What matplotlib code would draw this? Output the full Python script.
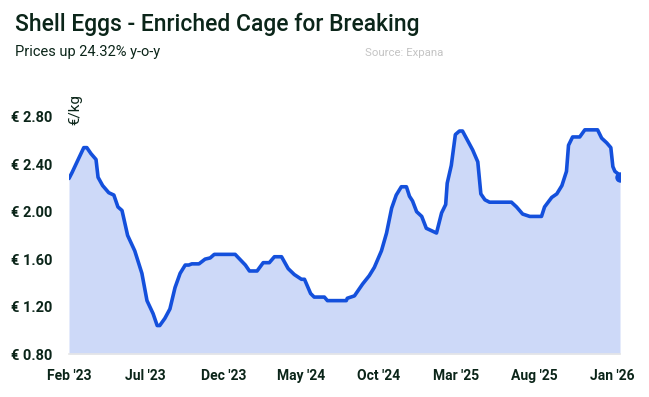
import matplotlib
matplotlib.use("Agg")
import matplotlib.pyplot as plt
import pandas as pd

dates = ["2023-02-01","2023-02-07","2023-02-19","2023-03-02","2023-03-08","2023-03-16","2023-03-26",
         "2023-03-30","2023-04-08","2023-04-20","2023-04-30","2023-05-08","2023-05-16","2023-05-27",
         "2023-06-10","2023-06-24","2023-07-04","2023-07-16","2023-07-24","2023-07-29","2023-08-08",
         "2023-08-18","2023-08-28","2023-09-07","2023-09-17","2023-09-24","2023-09-30","2023-10-14",
         "2023-10-26","2023-11-05","2023-11-13","2023-12-24","2024-01-13","2024-01-21","2024-02-05",
         "2024-02-17","2024-02-29","2024-03-10","2024-03-24","2024-04-06","2024-04-18","2024-05-02",
         "2024-05-08","2024-05-20","2024-05-27","2024-06-16","2024-06-22","2024-07-29","2024-07-31",
         "2024-08-14","2024-08-30","2024-09-12","2024-09-22","2024-10-06","2024-10-16","2024-10-26",
         "2024-11-04","2024-11-14","2024-11-24","2024-11-30","2024-12-06","2024-12-14","2024-12-24",
         "2025-01-02","2025-01-12","2025-01-22","2025-02-01","2025-02-09","2025-02-12","2025-02-20",
         "2025-02-28","2025-03-08","2025-03-14","2025-03-24","2025-04-03","2025-04-13","2025-04-19",
         "2025-04-27","2025-05-06","2025-06-18","2025-06-28","2025-07-10","2025-07-24","2025-08-16",
         "2025-08-22","2025-09-05","2025-09-15","2025-09-25","2025-10-04","2025-10-08","2025-10-16",
         "2025-10-30","2025-11-09","2025-12-04","2025-12-12","2025-12-22","2025-12-30","2026-01-03",
         "2026-01-07","2026-01-13","2026-01-17"]
prices = [2.28,2.33,2.44,2.54,2.54,2.49,2.44,
          2.29,2.22,2.16,2.14,2.04,2.01,1.80,
          1.67,1.48,1.25,1.14,1.04,1.04,1.10,
          1.18,1.36,1.48,1.55,1.55,1.56,1.56,
          1.60,1.61,1.64,1.64,1.55,1.50,1.50,
          1.57,1.57,1.62,1.62,1.52,1.47,1.43,
          1.43,1.31,1.28,1.28,1.25,1.25,1.27,
          1.29,1.39,1.46,1.53,1.67,1.82,2.03,
          2.14,2.21,2.21,2.13,2.09,2.00,1.96,
          1.86,1.84,1.82,1.99,2.06,2.24,2.39,
          2.65,2.68,2.68,2.60,2.52,2.42,2.15,
          2.10,2.08,2.08,2.04,1.98,1.96,1.96,
          2.04,2.12,2.15,2.22,2.34,2.56,2.63,
          2.63,2.69,2.69,2.62,2.58,2.54,2.38,
          2.34,2.32,2.29]
yticks = [0.80, 1.20, 1.60, 2.00, 2.40, 2.80]
xtick_dates = ["2023-02-01","2023-07-01","2023-12-01","2024-05-01","2024-10-01",
               "2025-03-01","2025-08-01","2026-01-01"]
xtick_labels = ["Feb '23","Jul '23","Dec '23","May '24","Oct '24","Mar '25","Aug '25","Jan '26"]

x = pd.to_datetime(dates)
xt = pd.to_datetime(xtick_dates)

DARK = "#0b2519"
LINE = "#1450dc"
FILL = "#cdd9f8"
FONT = ["Roboto", "DejaVu Sans"]

fig = plt.figure(figsize=(6.49, 3.97), dpi=100)
W, H = 649, 397
left, right, top, bottom = 69, 620, 99, 354
ax = fig.add_axes([left / W, 1 - bottom / H, (right - left) / W, (bottom - top) / H])

ax.fill_between(x, prices, 0.80, color=FILL, lw=0)
ax.plot(x, prices, color=LINE, lw=2.6, solid_joinstyle="round", solid_capstyle="round")
ax.plot(x[-1:], prices[-1:], "o", color=LINE, ms=6.5)

ax.set_xlim(x[0], x[-1])
ax.set_ylim(0.80, 2.95)
ax.set_yticks(yticks)
ax.set_yticklabels([f"€ {v:.2f}" for v in yticks], family=FONT, weight="bold",
                   fontsize=10.5, color=DARK)
ax.set_xticks(xt)
ax.set_xticklabels(xtick_labels, family=FONT, weight="bold", fontsize=10, color=DARK)
ax.tick_params(axis="both", length=0)
ax.tick_params(axis="y", pad=12)
ax.tick_params(axis="x", pad=11)
for s in ["top", "right", "left"]:
    ax.spines[s].set_visible(False)
ax.spines["bottom"].set_color("#e6e6e6")
ax.spines["bottom"].set_linewidth(1.2)

ax.text(-0.002, 1.02, "€/kg", transform=ax.transAxes, rotation=90, ha="left", va="top",
        family=FONT, fontsize=11, color=DARK)

fig.text(15 / W, 1 - 24 / H, "Shell Eggs - Enriched Cage for Breaking", family=FONT,
         weight="medium", fontsize=16.5, color=DARK, va="center", ha="left")
fig.text(15 / W, 1 - 52 / H, "Prices up 24.32% y-o-y", family=FONT, fontsize=10.5,
         color=DARK, va="center", ha="left")
fig.text(365 / W, 1 - 53 / H, "Source: Expana", family=FONT, fontsize=8.2,
         color="#c4c4c4", va="center", ha="left")

fig.savefig("out.png", dpi=100)
